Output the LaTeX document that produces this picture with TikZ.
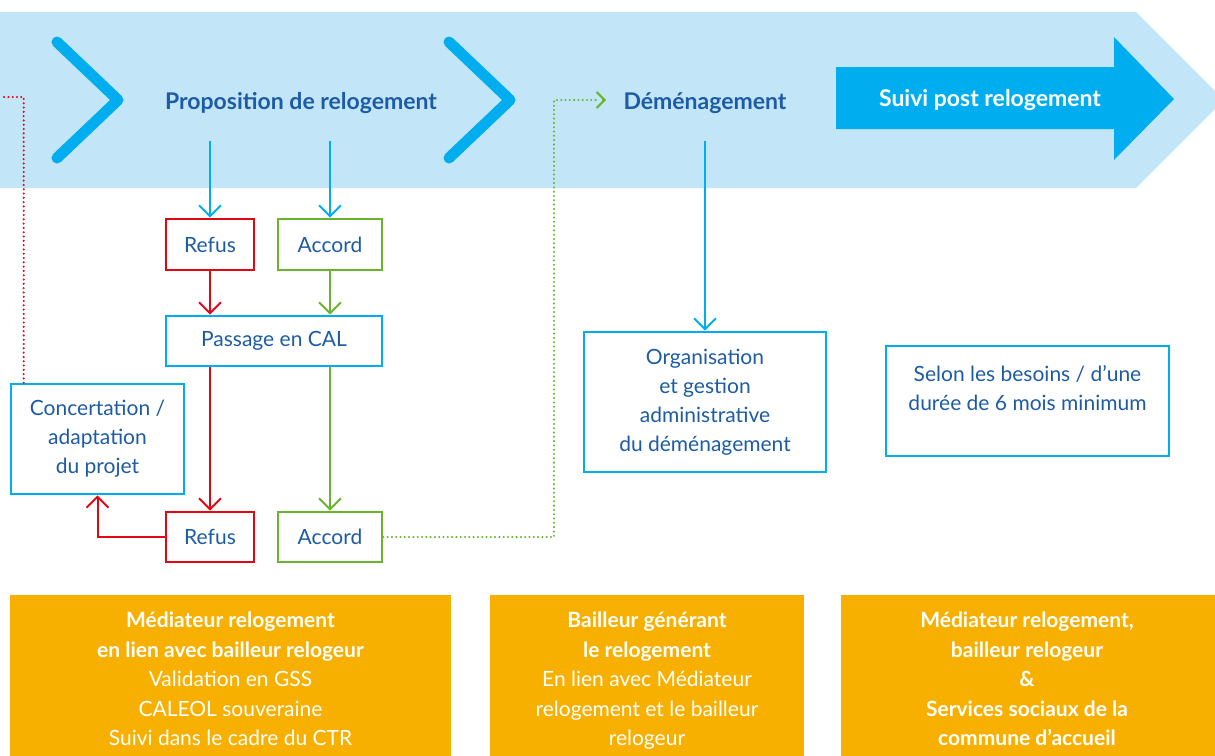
\documentclass[tikz,border=0pt]{standalone}
\usepackage{fontspec}
\setmainfont{Lato}
\usetikzlibrary{arrows.meta}
\definecolor{bandblue}{HTML}{C2E6F8}
\definecolor{cyanb}{HTML}{00AEEF}
\definecolor{navy}{HTML}{1D5BA4}
\definecolor{redb}{HTML}{E30613}
\definecolor{greenb}{HTML}{6AB42D}
\definecolor{orangeb}{HTML}{F8B000}
\begin{document}
\begin{tikzpicture}[x=1pt,y=-1pt,
  box/.style={draw, line width=2.6pt, text=navy, align=center, inner sep=0pt,
    font=\fontsize{21}{29}\selectfont},
  bluebox/.style={box, draw=cyanb},
  redbox/.style={box, draw=redb},
  greenbox/.style={box, draw=greenb},
  title/.style={text=navy, font=\fontsize{23}{26}\selectfont\bfseries, inner sep=0pt},
  tip/.style={-{Straight Barb[length=11pt,width=22pt,line width=2pt]}},
  conn/.style={line width=2pt, tip},
  blueconn/.style={conn, draw=cyanb},
  redconn/.style={conn, draw=redb},
  greenconn/.style={conn, draw=greenb},
  dotline/.style={line width=2.3pt, line cap=round, dash pattern=on 0pt off 4.3pt},
  chev/.style={draw=cyanb, line width=11pt, line cap=round, line join=round},
  orangebox/.style={fill=orangeb, inner sep=0pt},
  orangetext/.style={text=white, align=center, inner sep=0pt,
    font=\fontsize{21}{29.5}\selectfont, anchor=north},
]
\useasboundingbox (0,0) rectangle (1215,755);
% band
\fill[bandblue] (0,12) -- (1136,12) -- (1224,100) -- (1136,188) -- (0,188) -- cycle;
% chevrons
\draw[chev] (57,42) -- (118,100) -- (57,158);
\draw[chev] (449,42) -- (510,100) -- (449,158);
% big arrow
\fill[cyanb] (836,67) -- (1114,67) -- (1114,37) -- (1174,99) -- (1114,160) -- (1114,129) -- (836,129) -- cycle;
\node[text=white, font=\fontsize{23}{26}\selectfont\bfseries, inner sep=0pt] (suivi) at (990,100) {Suivi post relogement};
% titles
\node[title] (prop) at (301,103) {Proposition de relogement};
\node[title] (dem) at (705,103) {Déménagement};
% boxes
\node[redbox, minimum width=88pt, minimum height=51pt] (refus1) at (210,244.5) {Refus};
\node[greenbox, minimum width=104pt, minimum height=51pt] (accord1) at (330,244.5) {Accord};
\node[bluebox, minimum width=216pt, minimum height=50pt] (cal) at (274,341) {Passage en CAL};
\node[bluebox, minimum width=173pt, minimum height=110pt] (conc) at (97.5,439) {Concertation /\\adaptation\\du projet};
\node[redbox, minimum width=88pt, minimum height=50pt] (refus2) at (210,537) {Refus};
\node[greenbox, minimum width=104pt, minimum height=50pt] (accord2) at (330,537) {Accord};
\node[bluebox, minimum width=242pt, minimum height=140pt] (org) at (705,402) {Organisation\\et gestion\\administrative\\du déménagement};
\node[bluebox, minimum width=283pt, minimum height=110pt] (selon) at (1027.5,401) {Selon les besoins / d’une\\durée de 6 mois minimum\\[-11pt]\strut};
% coordinates
\coordinate (s1) at (210,141);
\coordinate (s2) at (330,141);
\coordinate (s3) at (705,141);
\coordinate (lend) at (0,97);
\coordinate (gturn) at (554,100);
\coordinate (gend) at (606,100);
% connectors
\draw[blueconn] (s1) -- (refus1.north);
\draw[blueconn] (s2) -- (accord1.north);
\draw[blueconn] (s3) -- (org.north);
\draw[redconn] (refus1.south) -- (refus1.south |- cal.north);
\draw[greenconn] (accord1.south) -- (accord1.south |- cal.north);
\draw[redconn] (refus2.north |- cal.south) -- (refus2.north);
\draw[greenconn] (accord2.north |- cal.south) -- (accord2.north);
\draw[redconn] (refus2.west) -| (conc.south);
\draw[dotline, draw=redb] ([xshift=14pt]conc.north west) |- (lend);
\draw[dotline, draw=greenb] (accord2.east) -| (gturn) -- ([xshift=-8pt]gend);
\draw[greenb, line width=2pt, -{Straight Barb[length=8pt,width=16pt,line width=2pt]}] ([xshift=-4pt]gend) -- (gend);
% orange boxes
\node[orangebox, minimum width=441pt, minimum height=165pt, anchor=north west] (o1) at (10,595) {};
\node[orangebox, minimum width=314pt, minimum height=165pt, anchor=north west] (o2) at (490,595) {};
\node[orangebox, minimum width=380pt, minimum height=165pt, anchor=north west] (o3) at (841,595) {};
\node[orangetext] (t1) at (230.5,612)
  {\textbf{Médiateur relogement}\\\textbf{en lien avec bailleur relogeur}\\Validation en GSS\\CALEOL souveraine\\Suivi dans le cadre du CTR};
\node[orangetext] (t2) at (647,612)
  {\textbf{Bailleur générant}\\\textbf{le relogement}\\En lien avec Médiateur\\relogement et le bailleur\\relogeur};
\node[orangetext, font=\fontsize{21}{29.5}\selectfont\bfseries] (t3) at (1027,612)
  {Médiateur relogement,\\bailleur relogeur\\\&\\Services sociaux de la\\commune d’accueil};
\end{tikzpicture}
\end{document}
